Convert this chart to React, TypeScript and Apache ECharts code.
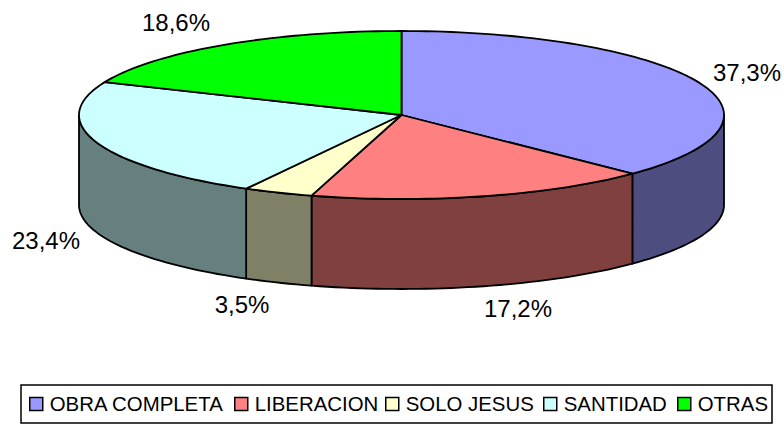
import React, { useEffect, useRef } from "react";
import * as echarts from "echarts";

const categories = ["OBRA COMPLETA", "LIBERACION", "SOLO JESUS", "SANTIDAD", "OTRAS"];
const shares = [37.3, 17.2, 3.5, 23.4, 18.6];
const labels = ["37,3%", "17,2%", "3,5%", "23,4%", "18,6%"];
const topColors = ["#9999ff", "#ff8080", "#ffffcc", "#ccffff", "#00ff00"];
const wallColors = ["#4d4d80", "#804040", "#808066", "#668080", "#008000"];
const labelAnchors = [[747, 72], [518, 308], [242, 304], [46, 240], [176, 22]];
const legendLefts = [29, 234, 385, 543, 677];

const CX = 401.5, CY = 115, RX = 322.5, RY = 84, DEPTH = 90;
const total = shares.reduce((a, b) => a + b, 0);
const pt = (deg: number, dy = 0) => {
  const r = (deg * Math.PI) / 180;
  return [CX + RX * Math.sin(r), CY - RY * Math.cos(r) + dy];
};
const arc = (a: number, b: number, dy = 0) => {
  const n = Math.max(2, Math.ceil(Math.abs(b - a) / 1.5));
  const out: number[][] = [];
  for (let i = 0; i <= n; i++) out.push(pt(a + ((b - a) * i) / n, dy));
  return out;
};

const startShare = (idx: number) => shares.slice(0, idx).reduce((a, b) => a + b, 0);

const makeRender = (idx: number) => (_params: any, api: any) => {
  const a0 = (startShare(idx) / total) * 360;
  const a1 = a0 + (api.value(0) / total) * 360;
  const children: any[] = [];
  const w0 = Math.max(a0, 90);
  const w1 = Math.min(a1, 270);
  const line = { stroke: "#000", lineWidth: 1.8, lineJoin: "round" };
  if (w1 > w0) {
    children.push({
      type: "polygon",
      shape: { points: [...arc(w0, w1), ...arc(w1, w0, DEPTH)] },
      style: { fill: wallColors[idx], ...line },
    });
  }
  children.push({
    type: "polygon",
    shape: { points: [[CX, CY], ...arc(a0, a1)] },
    style: { fill: api.visual("color"), ...line },
  });
  children.push({
    type: "text",
    style: {
      text: labels[idx],
      x: labelAnchors[idx][0],
      y: labelAnchors[idx][1],
      align: "center",
      verticalAlign: "middle",
      fontFamily: "Liberation Sans",
      fontSize: 24,
      fill: "#000",
    },
  });
  return { type: "group", children };
};

export default function App() {
  const ref = useRef<HTMLDivElement>(null);
  useEffect(() => {
    const chart = echarts.init(ref.current!, null, { renderer: "svg" });
    chart.setOption({
      animation: false,
      backgroundColor: "#fff",
      graphic: [
        {
          type: "rect",
          silent: true,
          z: -1,
          shape: { x: 21, y: 385, width: 751, height: 38 },
          style: { fill: "#fff", stroke: "#000", lineWidth: 1.5 },
        },
      ],
      legend: categories.map((name, i) => ({
        left: legendLefts[i],
        top: 394,
        data: [name],
        icon: "rect",
        itemWidth: 13,
        itemHeight: 13,
        padding: 0,
        selectedMode: false,
        itemStyle: { borderColor: "#000", borderWidth: 1.5 },
        textStyle: { fontFamily: "Liberation Sans", fontSize: 20.4, color: "#000", lineHeight: 20, padding: [0, 0, 0, 2] },
      })),
      series: categories.map((name, i) => ({
        type: "custom",
        name,
        coordinateSystem: "none",
        silent: true,
        itemStyle: { color: topColors[i] },
        renderItem: makeRender(i),
        data: [[shares[i]]],
      })),
    });
    return () => chart.dispose();
  }, []);
  return <div ref={ref} style={{ position: "fixed", left: 0, top: 0, width: 784, height: 424 }} />;
}
